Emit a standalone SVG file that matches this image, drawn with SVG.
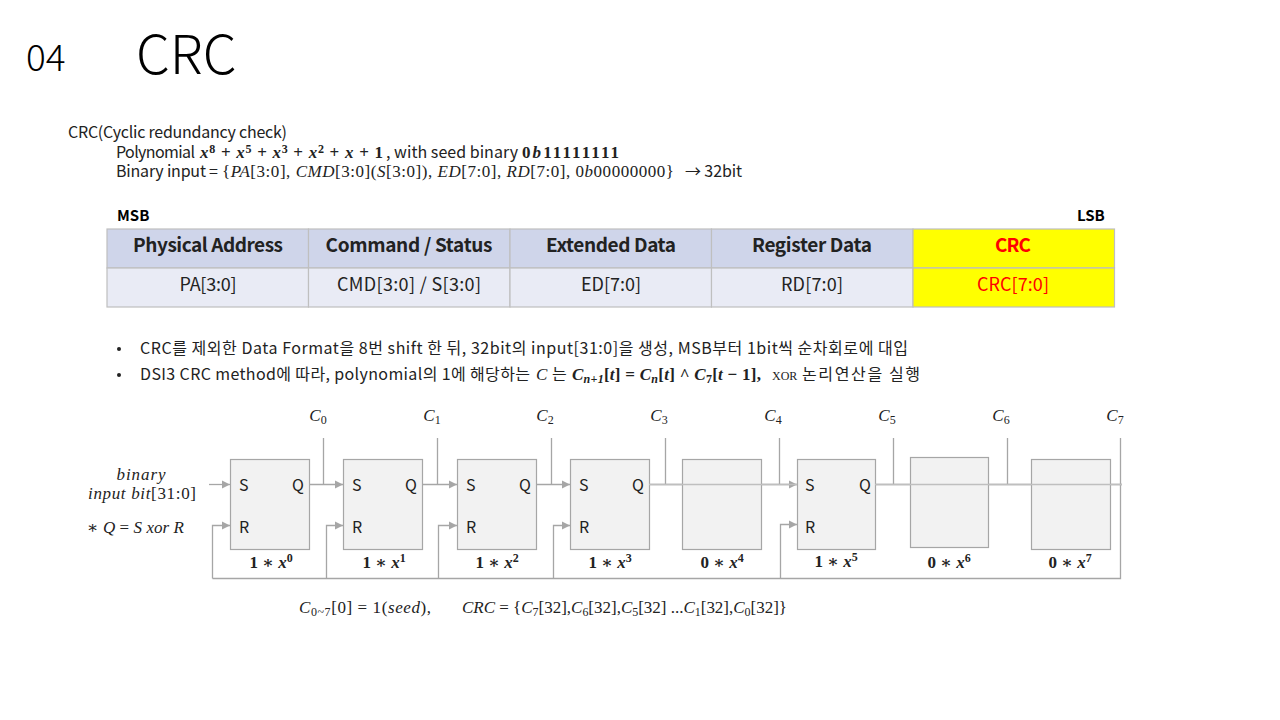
<svg xmlns="http://www.w3.org/2000/svg" width="1280" height="720" viewBox="0 0 1280 720">
<style>
text{font-family:"Noto Sans CJK KR","Open Sans",sans-serif;fill:#000}
.k{font-size:16px;fill:#222}
.m{font-family:"Liberation Serif","DejaVu Serif",serif;font-size:17px;fill:#222}
.mi{font-style:italic}
.b{font-weight:bold}
.th{font-size:19px;font-weight:700;text-anchor:middle;fill:#222}
.td{font-size:18px;text-anchor:middle;fill:#222}
.sr{font-size:16px;fill:#222}
.box{fill:#f2f2f2;stroke:#a6a6a6;stroke-width:1.2}
.w{fill:none;stroke:#a6a6a6;stroke-width:1.3}
.cell{stroke:#bfbfbf;stroke-width:1.2}
.lb{font-family:"Liberation Serif","DejaVu Serif",serif;font-size:17px;font-weight:bold;text-anchor:middle;fill:#222}
.c{font-family:"Liberation Serif","DejaVu Serif",serif;font-size:17px;font-style:italic;text-anchor:middle;fill:#222}
.s{font-size:12px}
</style>
<defs><marker id="a" markerUnits="userSpaceOnUse" markerWidth="9" markerHeight="10" refX="8" refY="5" orient="auto"><path d="M0 1L8 5L0 9Z" fill="#a6a6a6"/></marker></defs>
<rect width="1280" height="720" fill="#fff"/>
<text x="26" y="71" font-size="37" font-weight="300">04</text>
<text x="136" y="74" font-size="54" font-weight="300">CRC</text>
<g id="intro">
<text class="k" x="68" y="138" textLength="219">CRC(Cyclic redundancy check)</text>
<text class="k" x="116" y="158" textLength="79">Polynomial</text>
<text class="m b" x="200" y="158" textLength="183"><tspan class="mi">x</tspan><tspan class="s" dy="-5">8</tspan><tspan dy="5"> + </tspan><tspan class="mi">x</tspan><tspan class="s" dy="-5">5</tspan><tspan dy="5"> + </tspan><tspan class="mi">x</tspan><tspan class="s" dy="-5">3</tspan><tspan dy="5"> + </tspan><tspan class="mi">x</tspan><tspan class="s" dy="-5">2</tspan><tspan dy="5"> + </tspan><tspan class="mi">x</tspan> + 1</text>
<text class="k" x="386" y="158" textLength="132">, with seed binary</text>
<text class="m b" x="522" y="158" textLength="97">0<tspan class="mi">b</tspan>11111111</text>
<text class="k" x="116" y="177" textLength="102">Binary input =</text>
<text class="m" x="222" y="177" textLength="452">{<tspan class="mi">PA</tspan>[3:0], <tspan class="mi">CMD</tspan>[3:0](<tspan class="mi">S</tspan>[3:0]), <tspan class="mi">ED</tspan>[7:0], <tspan class="mi">RD</tspan>[7:0], 0<tspan class="mi">b</tspan>00000000}</text>
<text class="k" x="685" y="177" textLength="57">→ 32bit</text>
</g>
<text x="117" y="221" font-size="15" font-weight="700" fill="#222">MSB</text>
<text x="1077" y="221" font-size="15" font-weight="700" fill="#222">LSB</text>
<g id="table">
<rect class="cell" x="107" y="229" width="201.500" height="39" fill="#cfd5ea"/>
<rect class="cell" x="308.500" y="229" width="201.500" height="39" fill="#cfd5ea"/>
<rect class="cell" x="510" y="229" width="201.500" height="39" fill="#cfd5ea"/>
<rect class="cell" x="711.500" y="229" width="201.500" height="39" fill="#cfd5ea"/>
<rect class="cell" x="913" y="229" width="201.500" height="39" fill="#ffff00"/>
<rect class="cell" x="107" y="268" width="201.500" height="39" fill="#e9ebf5"/>
<rect class="cell" x="308.500" y="268" width="201.500" height="39" fill="#e9ebf5"/>
<rect class="cell" x="510" y="268" width="201.500" height="39" fill="#e9ebf5"/>
<rect class="cell" x="711.500" y="268" width="201.500" height="39" fill="#e9ebf5"/>
<rect class="cell" x="913" y="268" width="201.500" height="39" fill="#ffff00"/>
<text class="th" x="208" y="252" textLength="150">Physical Address</text>
<text class="th" x="409" y="252" textLength="167">Command / Status</text>
<text class="th" x="611" y="252" textLength="130">Extended Data</text>
<text class="th" x="812" y="252" textLength="120">Register Data</text>
<text class="th" x="1013" y="252" textLength="36" style="fill:#ff0000">CRC</text>
<text class="td" x="208" y="291" textLength="57">PA[3:0]</text>
<text class="td" x="409" y="291" textLength="144">CMD[3:0] / S[3:0]</text>
<text class="td" x="611" y="291" textLength="60">ED[7:0]</text>
<text class="td" x="812" y="291" textLength="62">RD[7:0]</text>
<text class="td" x="1013" y="291" textLength="72" style="fill:#ff0000">CRC[7:0]</text>
</g>
<g id="bullets">
<circle cx="119" cy="349" r="2" fill="#222"/>
<circle cx="119" cy="375" r="2" fill="#222"/>
<text class="k" x="140" y="354" textLength="768">CRC를 제외한 Data Format을 8번 shift 한 뒤, 32bit의 input[31:0]을 생성, MSB부터 1bit씩 순차회로에 대입</text>
<text class="k" x="140" y="380" textLength="390">DSI3 CRC method에 따라, polynomial의 1에 해당하는</text>
<text class="m mi" x="536" y="380">C</text>
<text class="k" x="552" y="380">는</text>
<text class="m b" x="572" y="380" textLength="189"><tspan class="mi">C</tspan><tspan class="mi s" dy="3">n+1</tspan><tspan dy="-3">[</tspan><tspan class="mi">t</tspan>] = <tspan class="mi">C</tspan><tspan class="mi s" dy="3">n</tspan><tspan dy="-3">[</tspan><tspan class="mi">t</tspan>] ^ <tspan class="mi">C</tspan><tspan class="s" dy="3">7</tspan><tspan dy="-3">[</tspan><tspan class="mi">t</tspan> − 1],</text>
<text class="m" x="772" y="380" font-size="12" style="font-size:12px">XOR</text>
<text class="k" x="802" y="380" textLength="118">논리연산을 실행</text>
</g>
<g id="connectors">
<path class="w" marker-end="url(#a)" d="M209 484.500H230"/>
<path class="w" marker-end="url(#a)" d="M309 484.500H343"/>
<path class="w" marker-end="url(#a)" d="M422 484.500H457"/>
<path class="w" marker-end="url(#a)" d="M536 484.500H570"/>
<path class="w" marker-end="url(#a)" d="M649 484.500H797"/>
<path class="w" d="M875 484.500H1122"/>
<path class="w" d="M323.500 438V484.500M437.500 438V484.500M551.500 438V484.500M665.500 438V484.500M779.500 438V484.500M893.500 438V484.500M1007.500 438V484.500"/>
<path class="w" d="M1120.500 438V578.500H212.500"/>
<path class="w" marker-end="url(#a)" d="M212.500 578.500V525.500H230"/>
<path class="w" marker-end="url(#a)" d="M326.500 578.500V525.500H343"/>
<path class="w" marker-end="url(#a)" d="M438.500 578.500V525.500H457"/>
<path class="w" marker-end="url(#a)" d="M553.500 578.500V525.500H570"/>
<path class="w" marker-end="url(#a)" d="M780.500 578.500V524.500H797"/>
</g>
<g id="ff0"><rect class="box" x="230.500" y="459.500" width="79" height="90"/><text class="sr" x="239" y="491">S</text><text class="sr" x="292" y="491">Q</text><text class="sr" x="239" y="533">R</text><text class="lb" x="271" y="568">1 ∗ <tspan class="mi">x</tspan><tspan class="s" dy="-6">0</tspan></text></g>
<g id="ff1"><rect class="box" x="343.500" y="459.500" width="79" height="90"/><text class="sr" x="352" y="491">S</text><text class="sr" x="405" y="491">Q</text><text class="sr" x="352" y="533">R</text><text class="lb" x="384" y="568">1 ∗ <tspan class="mi">x</tspan><tspan class="s" dy="-6">1</tspan></text></g>
<g id="ff2"><rect class="box" x="457.500" y="459.500" width="79" height="90"/><text class="sr" x="466" y="491">S</text><text class="sr" x="519" y="491">Q</text><text class="sr" x="466" y="533">R</text><text class="lb" x="497" y="568">1 ∗ <tspan class="mi">x</tspan><tspan class="s" dy="-6">2</tspan></text></g>
<g id="ff3"><rect class="box" x="570.500" y="459.500" width="79" height="90"/><text class="sr" x="579" y="491">S</text><text class="sr" x="632" y="491">Q</text><text class="sr" x="579" y="533">R</text><text class="lb" x="610" y="568">1 ∗ <tspan class="mi">x</tspan><tspan class="s" dy="-6">3</tspan></text></g>
<g id="ff4"><rect class="box" x="682.500" y="459.500" width="79" height="90"/><text class="lb" x="722" y="568">0 ∗ <tspan class="mi">x</tspan><tspan class="s" dy="-6">4</tspan></text></g>
<g id="ff5"><rect class="box" x="797.500" y="459.500" width="78" height="90"/><text class="sr" x="805" y="491">S</text><text class="sr" x="859" y="491">Q</text><text class="sr" x="805" y="533">R</text><text class="lb" x="836" y="567">1 ∗ <tspan class="mi">x</tspan><tspan class="s" dy="-6">5</tspan></text></g>
<g id="ff6"><rect class="box" x="910.500" y="457.500" width="78" height="90"/><text class="lb" x="949" y="568">0 ∗ <tspan class="mi">x</tspan><tspan class="s" dy="-6">6</tspan></text></g>
<g id="ff7"><rect class="box" x="1031.500" y="459.500" width="79" height="90"/><text class="lb" x="1070" y="568">0 ∗ <tspan class="mi">x</tspan><tspan class="s" dy="-6">7</tspan></text></g>
<path id="overlay" d="M649 484.500H797M875 484.500H1122" fill="none" stroke="#bfbfbf" stroke-width="1.500"/>
<g id="labels">
<text class="c" x="318" y="421">C<tspan class="s" dy="3" font-style="normal">0</tspan></text>
<text class="c" x="432" y="421">C<tspan class="s" dy="3" font-style="normal">1</tspan></text>
<text class="c" x="545" y="421">C<tspan class="s" dy="3" font-style="normal">2</tspan></text>
<text class="c" x="659" y="421">C<tspan class="s" dy="3" font-style="normal">3</tspan></text>
<text class="c" x="773" y="421">C<tspan class="s" dy="3" font-style="normal">4</tspan></text>
<text class="c" x="887" y="421">C<tspan class="s" dy="3" font-style="normal">5</tspan></text>
<text class="c" x="1001" y="421">C<tspan class="s" dy="3" font-style="normal">6</tspan></text>
<text class="c" x="1115" y="421">C<tspan class="s" dy="3" font-style="normal">7</tspan></text>
<text class="m mi" x="141" y="480" text-anchor="middle" textLength="49">binary</text>
<text class="m" x="142" y="499" text-anchor="middle" textLength="108"><tspan class="mi">input bit</tspan>[31:0]</text>
<text class="m" x="87" y="533" textLength="97">∗ <tspan class="mi">Q</tspan> = <tspan class="mi">S xor R</tspan></text>
<text class="m" x="299" y="613" textLength="132"><tspan class="mi">C</tspan><tspan class="s" dy="3">0~7</tspan><tspan dy="-3">[0] = 1(</tspan><tspan class="mi">seed</tspan>),</text>
<text class="m" x="462" y="613" textLength="325"><tspan class="mi">CRC</tspan> = {<tspan class="mi">C</tspan><tspan class="s" dy="3">7</tspan><tspan dy="-3">[32],</tspan><tspan class="mi">C</tspan><tspan class="s" dy="3">6</tspan><tspan dy="-3">[32],</tspan><tspan class="mi">C</tspan><tspan class="s" dy="3">5</tspan><tspan dy="-3">[32] ...</tspan><tspan class="mi">C</tspan><tspan class="s" dy="3">1</tspan><tspan dy="-3">[32],</tspan><tspan class="mi">C</tspan><tspan class="s" dy="3">0</tspan><tspan dy="-3">[32]}</tspan></text>
</g>
</svg>
